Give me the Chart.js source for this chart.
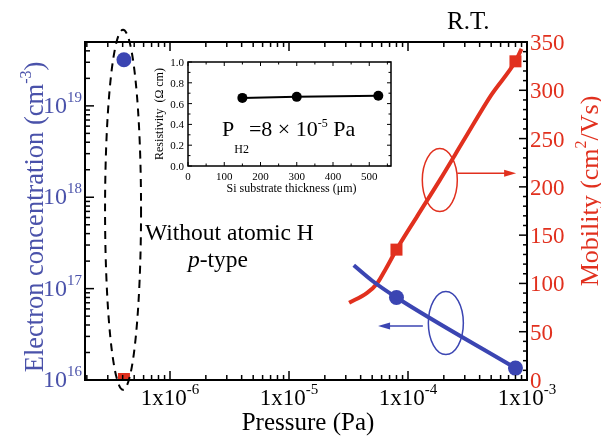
<!DOCTYPE html>
<html>
<head>
<meta charset="utf-8">
<script src="https://cdn.jsdelivr.net/npm/chart.js@4/dist/chart.umd.min.js"></script>
<style>
  body { margin: 0; background: #fff; }
  #contenedor { position: relative; width: 601px; height: 436px; }
  #grafico-hall { position: absolute; left: 0; top: 0; }
  #grafico-inset { position: absolute; left: 140px; top: 50px; }
</style>
</head>
<body>
<div id="contenedor">
  <canvas id="grafico-hall" width="601" height="436"></canvas>
  <canvas id="grafico-inset" width="260" height="150"></canvas>
</div>
<script>
// datos medidos
const presionMedida = [4.1e-7, 8e-5, 8e-4];
const concentracion = [3.2e19, 8e16, 1.35e16];
const movilidad = [1, 135, 330];

// curvas de ajuste
const presionAjusteN = [3.5e-5, 5e-5, 8e-5, 8e-4];
const ajusteN = [1.8e17, 1.22e17, 8e16, 1.35e16];
const presionAjusteMu = [3.2e-5, 4.5e-5, 5.5e-5, 6.5e-5, 8e-5, 1.2e-4, 1.85e-4, 3e-4, 5e-4, 8e-4, 9e-4];
const ajusteMu = [80, 90, 100, 115, 135, 170, 207, 250, 295, 330, 343];

// inset
const espesor = [150, 300, 525];
const resistividad = [0.655, 0.665, 0.675];

// etiquetas de ejes
const ticksPresion = [1e-6, 1e-5, 1e-4, 1e-3];
const expPresion = ['-6', '-5', '-4', '-3'];
const ticksConc = [1e16, 1e17, 1e18, 1e19];
const expConc = ['16', '17', '18', '19'];
const ticksMu = [0, 50, 100, 150, 200, 250, 300, 350];
const ticksEspesor = [0, 100, 200, 300, 400, 500];
const ticksResist = [0, 0.2, 0.4, 0.6, 0.8, 1.0];

const SERIF = '"Liberation Serif", "Times New Roman", serif';
const AZUL = '#3b45b2';
const AZUL_TXT = '#4a52aa';
const ROJO = '#e1301e';

// escribe trozos [texto, tamaño, desplazamiento, estilo]
function texto(ctx, partes, x, y, align) {
  let ancho = 0;
  partes.forEach(p => {
    ctx.font = (p[3] || '') + ' ' + p[1] + 'px ' + SERIF;
    ancho += ctx.measureText(p[0]).width;
  });
  let cx = align === 'right' ? x - ancho : align === 'center' ? x - ancho / 2 : x;
  ctx.textAlign = 'left';
  ctx.textBaseline = 'alphabetic';
  partes.forEach(p => {
    ctx.font = (p[3] || '') + ' ' + p[1] + 'px ' + SERIF;
    ctx.fillText(p[0], cx, y + (p[2] || 0));
    cx += ctx.measureText(p[0]).width;
  });
}

function linea(ctx, x1, y1, x2, y2) {
  ctx.beginPath();
  ctx.moveTo(x1, y1);
  ctx.lineTo(x2, y2);
  ctx.stroke();
}

function flecha(ctx, x1, y, x2, color) {
  ctx.strokeStyle = color;
  ctx.fillStyle = color;
  ctx.lineWidth = 1.5;
  const dir = Math.sign(x2 - x1);
  linea(ctx, x1, y, x2 - dir * 9, y);
  ctx.beginPath();
  ctx.moveTo(x2, y);
  ctx.lineTo(x2 - dir * 12, y - 3.5);
  ctx.lineTo(x2 - dir * 12, y + 3.5);
  ctx.closePath();
  ctx.fill();
}

function elipse(ctx, cx, cy, rx, ry, color, ancho, trazo) {
  ctx.strokeStyle = color;
  ctx.lineWidth = ancho;
  ctx.setLineDash(trazo || []);
  ctx.beginPath();
  ctx.ellipse(cx, cy, rx, ry, 0, 0, Math.PI * 2);
  ctx.stroke();
  ctx.setLineDash([]);
}

const marco = {
  id: 'marco',
  afterDatasetsDraw(chart) {
    const { ctx, chartArea: a, scales: { x, y, y1 } } = chart;
    ctx.save();
    ctx.strokeStyle = '#000';
    ctx.lineWidth = 2;
    ctx.strokeRect(a.left, a.top, a.right - a.left, a.bottom - a.top);

    // marcas eje x (abajo y arriba)
    ctx.lineWidth = 1.5;
    for (let d = -7; d <= -3; d++) {
      for (let k = 1; k <= 9; k++) {
        const v = k * Math.pow(10, d);
        if (v < x.min || v > x.max * 1.0001) continue;
        const px = x.getPixelForValue(v);
        const L = k === 1 ? 9 : 5;
        linea(ctx, px, a.bottom, px, a.bottom - L);
        linea(ctx, px, a.top, px, a.top + L);
      }
    }
    // marcas eje izquierdo (log)
    for (let d = 16; d <= 19; d++) {
      for (let k = 1; k <= 9; k++) {
        const v = k * Math.pow(10, d);
        if (v > y.max) continue;
        const py = y.getPixelForValue(v);
        linea(ctx, a.left, py, a.left + (k === 1 ? 9 : 5), py);
      }
    }
    // marcas eje derecho
    for (let m = 0; m <= 350; m += 10) {
      const py = y1.getPixelForValue(m);
      linea(ctx, a.right, py, a.right - (m % 50 === 0 ? 8 : 4), py);
    }

    // etiquetas
    ctx.fillStyle = '#000';
    ticksPresion.forEach((v, i) => {
      texto(ctx, [['1x10', 23], [expPresion[i], 15, -11]], x.getPixelForValue(v), a.bottom + 25, 'center');
    });
    ctx.fillStyle = AZUL_TXT;
    ticksConc.forEach((v, i) => {
      texto(ctx, [['10', 24], [expConc[i], 15, -11]], a.left - 3, y.getPixelForValue(v) + 7, 'right');
    });
    ctx.fillStyle = ROJO;
    ticksMu.forEach(v => {
      texto(ctx, [[String(v), 23]], a.right + 3, y1.getPixelForValue(v) + 8, 'left');
    });

    // títulos
    ctx.fillStyle = '#000';
    texto(ctx, [['Pressure (Pa)', 25]], (a.left + a.right) / 2 + 2, 430, 'center');
    texto(ctx, [['R.T.', 25]], 447, 29, 'left');

    ctx.fillStyle = AZUL_TXT;
    ctx.save();
    ctx.translate(43, 217);
    ctx.rotate(-Math.PI / 2);
    texto(ctx, [['Electron concentration (cm', 26.5], ['-3', 16, -12], [')', 26.5]], 0, 0, 'center');
    ctx.restore();

    ctx.fillStyle = ROJO;
    ctx.save();
    ctx.translate(598, 191);
    ctx.rotate(-Math.PI / 2);
    texto(ctx, [['Mobility (cm', 26], ['2', 16, -12], ['/Vs)', 26]], 0, 0, 'center');
    ctx.restore();

    // anotaciones
    ctx.fillStyle = '#000';
    texto(ctx, [['Without atomic H', 23.5]], 145, 240, 'left');
    texto(ctx, [['p', 23.5, 0, 'italic'], ['-type', 23.5]], 188, 267, 'left');

    elipse(ctx, x.getPixelForValue(4.03e-7), y.getPixelForValue(7.3e17), 18, 180, '#000', 2, [8, 6]);

    const exR = x.getPixelForValue(1.85e-4), eyR = y1.getPixelForValue(207);
    elipse(ctx, exR, eyR, 17.5, 31.5, ROJO, 1.5);
    flecha(ctx, exR + 17.5, y1.getPixelForValue(214), x.getPixelForValue(8.1e-4), ROJO);

    const exA = x.getPixelForValue(2.08e-4), eyA = y.getPixelForValue(4.2e16);
    elipse(ctx, exA, eyA, 17.5, 31.5, AZUL, 1.5);
    flecha(ctx, exA - 23, y.getPixelForValue(3.9e16), x.getPixelForValue(5.6e-5), AZUL);

    ctx.restore();
  }
};

new Chart(document.getElementById('grafico-hall'), {
  type: 'line',
  data: {
    datasets: [
      {
        data: presionAjusteN.map((p, i) => ({ x: p, y: ajusteN[i] })),
        yAxisID: 'y',
        borderColor: AZUL,
        borderWidth: 4,
        pointRadius: 0,
        cubicInterpolationMode: 'monotone'
      },
      {
        data: presionAjusteMu.map((p, i) => ({ x: p, y: ajusteMu[i] })),
        yAxisID: 'y1',
        borderColor: ROJO,
        borderWidth: 4,
        pointRadius: 0,
        cubicInterpolationMode: 'monotone'
      },
      {
        data: presionMedida.map((p, i) => ({ x: p, y: concentracion[i] })),
        yAxisID: 'y',
        showLine: false,
        pointRadius: 7.5,
        pointBackgroundColor: AZUL,
        pointBorderWidth: 0
      },
      {
        data: presionMedida.map((p, i) => ({ x: p, y: movilidad[i] })),
        yAxisID: 'y1',
        showLine: false,
        pointStyle: 'rect',
        pointRadius: 8.5,
        pointBackgroundColor: ROJO,
        pointBorderWidth: 0
      }
    ]
  },
  options: {
    responsive: false,
    animation: false,
    layout: { padding: { left: 85, right: 74, top: 42, bottom: 56 } },
    plugins: { legend: { display: false }, tooltip: { enabled: false } },
    scales: {
      x: { type: 'logarithmic', min: 1.93e-7, max: 1e-3, display: false },
      y: { type: 'logarithmic', min: 1e16, max: 5e19, display: false },
      y1: { type: 'linear', min: 0, max: 350, display: false }
    }
  },
  plugins: [marco]
});

const marcoInset = {
  id: 'marcoInset',
  afterDatasetsDraw(chart) {
    const { ctx, chartArea: a, scales: { x, y } } = chart;
    ctx.save();
    ctx.strokeStyle = '#000';
    ctx.lineWidth = 1.5;
    ctx.strokeRect(a.left, a.top, a.right - a.left, a.bottom - a.top);
    ctx.lineWidth = 1;
    for (let t = 0; t <= 550; t += 50) {
      const px = x.getPixelForValue(t);
      const L = t % 100 === 0 ? 4 : 2.5;
      linea(ctx, px, a.bottom, px, a.bottom - L);
      linea(ctx, px, a.top, px, a.top + L);
    }
    for (let r = 0; r <= 10; r++) {
      const py = y.getPixelForValue(r / 10);
      const L = r % 2 === 0 ? 4 : 2.5;
      linea(ctx, a.left, py, a.left + L, py);
      linea(ctx, a.right, py, a.right - L, py);
    }
    ctx.fillStyle = '#000';
    ticksEspesor.forEach(v => texto(ctx, [[String(v), 11]], x.getPixelForValue(v), a.bottom + 14, 'center'));
    ticksResist.forEach(v => texto(ctx, [[v.toFixed(1), 11]], a.left - 4, y.getPixelForValue(v) + 4, 'right'));
    texto(ctx, [['Si substrate thickness (\u03bcm)', 12]], (a.left + a.right) / 2 + 2, 142, 'center');
    ctx.save();
    ctx.translate(23, (a.top + a.bottom) / 2);
    ctx.rotate(-Math.PI / 2);
    texto(ctx, [['Resistivity  (\u03a9 cm)', 12]], 0, 0, 'center');
    ctx.restore();
    texto(ctx, [['P', 22], ['H2', 12, 17], ['=8 \u00d7 10', 22], ['-5', 12, -9], [' Pa', 22]], 82, 86, 'left');
    ctx.restore();
  }
};

new Chart(document.getElementById('grafico-inset'), {
  type: 'line',
  data: {
    datasets: [{
      data: espesor.map((e, i) => ({ x: e, y: resistividad[i] })),
      borderColor: '#000',
      borderWidth: 2,
      pointRadius: 5,
      pointBackgroundColor: '#000',
      pointBorderWidth: 0,
      tension: 0
    }]
  },
  options: {
    responsive: false,
    animation: false,
    layout: { padding: { left: 48, right: 9, top: 12, bottom: 34 } },
    plugins: { legend: { display: false }, tooltip: { enabled: false } },
    scales: {
      x: { type: 'linear', min: 0, max: 560, display: false },
      y: { type: 'linear', min: 0, max: 1, display: false }
    }
  },
  plugins: [marcoInset]
});
</script>
</body>
</html>
